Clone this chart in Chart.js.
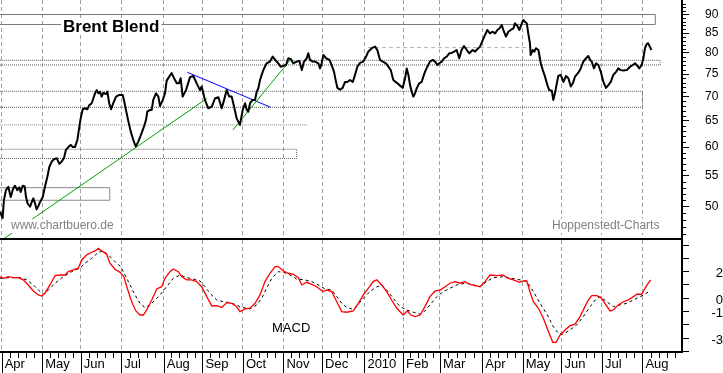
<!DOCTYPE html>
<html lang="de">
<head>
<meta charset="UTF-8">
<title>Brent Blend</title>
<script src="https://cdn.jsdelivr.net/npm/chart.js@4"></script>
<style>
    body {
        margin: 0;
        background: #fff;
        width: 723px;
        height: 373px;
        overflow: hidden;
        position: relative;
    }
    #pricebox { position: absolute; left: 0; top: 0; width: 723px; height: 240px; }
    #macdbox { position: absolute; left: 0; top: 238px; width: 723px; height: 135px; }
</style>
</head>
<body>
<div id="pricebox"><canvas id="priceChart" width="723" height="240"></canvas></div>
<div id="macdbox"><canvas id="macdChart" width="723" height="135"></canvas></div>
<script>
// x = trading day counted from 1 Apr 2009
const monthStarts = [0, 22, 43, 65, 88, 109, 131, 153, 174, 197, 218, 238, 261, 283, 304, 326, 348, 370];
const monthLabels = ['Apr', 'May', 'Jun', 'Jul', 'Aug', 'Sep', 'Oct', 'Nov', 'Dec', '2010', 'Feb', 'Mar', 'Apr', 'May', 'Jun', 'Jul', 'Aug'];

const priceTicks = [50, 55, 60, 65, 70, 75, 80, 85, 90];
const macdTicks = [-4, -3, -2, -1, 0, 1, 2, 3, 4];
const macdLabelled = [2, 0, -1, -3];

// Brent close (USD)
const priceDays = [
    -1, 0.5, 1.2, 2.3, 3.6, 4.9, 6.3, 7.2, 8.5, 9.6,
    10.3, 11.4, 12.5, 13.2, 14.1, 15.4, 16.3, 17.2, 18.1, 19.0,
    19.9, 20.8, 22.3, 23.5, 24.8, 25.9, 27.2, 28.4, 29.9, 31.3,
    32.6, 33.8, 34.9, 36.2, 37.5, 38.6, 39.8, 41.1, 42.2, 42.9,
    44.0, 45.2, 46.5, 47.6, 48.9, 49.8, 50.7, 51.6, 52.5, 53.4,
    54.3, 55.2, 56.7, 57.4, 58.4, 59.4, 60.6, 62.1, 63.9, 65.7,
    66.4, 67.5, 68.8, 70.1, 71.5, 72.8, 74.2, 76.0, 77.3, 78.4,
    79.1, 80.6, 81.5, 82.3, 83.8, 85.1, 86.0, 87.5, 88.7, 89.6,
    91.0, 92.3, 93.6, 95.1, 96.3, 97.2, 98.3, 100.1, 102.3, 104.1,
    105.9, 107.7, 108.6, 110.4, 112.2, 114.1, 115.9, 117.7, 119.5, 120.8,
    122.2, 123.6, 124.9, 126.2, 127.6, 129.4, 130.9, 132.2, 133.1, 133.9,
    134.9, 136.3, 137.6, 138.5, 139.4, 140.3, 141.2, 142.1, 143.0, 143.9,
    145.7, 147.2, 148.5, 150.2, 151.5, 153.0, 154.4, 155.7, 157.0, 158.4,
    160.2, 161.7, 163.0, 164.2, 165.7, 166.5, 167.5, 168.9, 170.2, 172.0,
    172.9, 173.8, 174.7, 176.2, 178.0, 179.2, 180.5, 181.6, 182.3, 183.8,
    185.2, 186.5, 187.7, 189.2, 190.7, 191.9, 193.2, 194.6, 196.4, 197.9,
    199.1, 201.0, 202.8, 204.0, 205.5, 207.0, 208.7, 210.0, 211.3, 212.7,
    214.6, 216.0, 217.8, 219.1, 220.0, 220.9, 221.8, 222.7, 223.6, 224.5,
    225.4, 226.8, 228.1, 229.0, 229.9, 231.2, 232.6, 234.1, 235.4, 236.6,
    237.7, 239.0, 240.3, 241.7, 243.1, 244.4, 245.7, 247.1, 248.5, 249.8,
    251.1, 252.6, 254.0, 255.8, 257.1, 258.3, 259.8, 261.3, 262.5, 263.8,
    265.2, 266.7, 268.0, 269.2, 270.3, 271.6, 272.8, 273.9, 275.2, 276.5,
    277.9, 278.8, 280.1, 281.2, 282.5, 283.3, 284.2, 285.2, 286.0, 286.9,
    287.3, 288.4, 289.3, 290.2, 291.5, 292.0, 292.8, 293.9, 295.1, 296.4,
    297.4, 298.8, 299.6, 300.5, 301.5, 302.3, 303.6, 305.1, 306.5, 307.8,
    309.1, 310.2, 311.4, 313.2, 314.5, 315.9, 317.4, 318.6, 319.6, 320.5,
    321.7, 322.8, 324.1, 325.4, 326.8, 328.2, 329.5, 330.8, 332.2, 333.7,
    334.9, 336.2, 337.6, 339.5, 341.3, 342.8, 344.0, 345.3, 346.3, 347.6,
    348.5, 349.4, 350.3, 351.1, 352.0, 352.9
];
const priceValues = [
    49.25, 48.3, 51.0, 52.6, 53.15, 51.5, 52.9, 53.3, 52.6, 53.05,
    52.3, 53.3, 53.2, 51.5, 50.5, 50.0, 50.7, 51.3, 50.5, 49.6,
    50.1, 50.7, 51.5, 53.15, 54.8, 56.5, 57.4, 57.8, 58.0, 57.0,
    57.4, 58.0, 59.5, 60.0, 60.4, 60.0, 60.0, 61.3, 63.9, 65.5,
    67.35, 67.55, 67.35, 68.2, 68.6, 69.65, 70.7, 71.4, 70.7, 71.05,
    70.0, 70.8, 70.55, 71.05, 68.6, 67.35, 68.6, 70.0, 70.35, 70.35,
    69.3, 67.2, 64.9, 62.9, 61.3, 60.1, 61.0, 62.6, 63.9, 65.2,
    66.85, 67.2, 67.2, 69.3, 70.7, 70.0, 68.0, 69.3, 70.7, 73.5,
    74.4, 75.2, 74.05, 72.9, 72.9, 74.05, 70.0, 71.4, 74.3, 74.55,
    72.9, 71.4, 72.2, 69.3, 67.55, 67.9, 69.65, 69.85, 67.55, 69.3,
    71.4, 70.0, 70.0, 67.9, 65.5, 64.2, 67.2, 68.6, 67.2, 66.85,
    68.6, 69.3, 69.3, 71.05, 71.8, 73.65, 74.8, 75.9, 76.7, 77.5,
    77.9, 79.1, 78.3, 77.5, 76.7, 76.9, 77.1, 78.7, 78.5, 77.5,
    77.9, 78.05, 75.9, 77.9, 78.7, 79.9, 78.3, 77.9, 77.9, 77.5,
    76.3, 77.5, 79.5, 78.7, 78.3, 77.1, 75.5, 73.2, 71.9, 71.5,
    71.9, 73.2, 73.2, 73.65, 73.2, 74.8, 76.7, 77.6, 77.9, 79.1,
    80.3, 81.15, 81.55, 80.7, 78.3, 77.9, 77.5, 76.7, 75.9, 73.65,
    73.0, 72.5, 71.9, 74.05, 76.3, 74.8, 72.5, 71.05, 70.0, 70.7,
    71.8, 72.9, 73.2, 74.4, 75.5, 76.7, 77.9, 78.3, 77.9, 77.1,
    77.5, 77.9, 78.7, 79.1, 79.9, 80.0, 80.3, 80.7, 78.7, 80.7,
    81.7, 80.7, 79.9, 80.7, 80.3, 80.9, 81.55, 83.2, 84.5, 85.8,
    84.9, 85.35, 84.9, 85.8, 86.2, 87.1, 85.35, 84.1, 85.35, 85.8,
    86.2, 87.55, 86.85, 85.8, 87.55, 88.45, 88.0, 87.55, 84.9, 82.4,
    79.5, 80.7, 80.3, 81.15, 80.7, 79.5, 77.5, 75.9, 74.4, 72.5,
    71.4, 71.25, 69.3, 70.7, 72.9, 74.55, 74.8, 73.2, 74.55, 74.05,
    72.2, 72.9, 74.4, 75.3, 76.3, 77.9, 78.7, 79.25, 78.3, 77.9,
    76.3, 77.5, 77.1, 75.5, 73.2, 71.9, 72.5, 73.2, 74.8, 75.5,
    76.3, 75.9, 75.8, 75.9, 76.7, 77.1, 77.5, 76.9, 76.3, 77.1,
    78.7, 81.15, 82.2, 82.4, 81.55, 80.7
];

// MACD line and its signal line
const macdDays = [
    -0.9, 0.9, 3.6, 6.3, 9.0, 11.7, 14.4, 17.2, 19.9, 21.7,
    23.5, 26.2, 29.0, 31.7, 34.4, 36.2, 38.9, 41.6, 43.5, 46.2,
    48.9, 50.7, 52.5, 54.3, 57.0, 58.8, 61.5, 64.3, 66.4, 68.2,
    70.6, 72.9, 75.1, 76.9, 78.8, 81.5, 84.2, 86.9, 88.7, 91.4,
    93.2, 95.9, 97.8, 100.5, 103.2, 105.9, 108.6, 111.4, 114.1, 116.8,
    119.5, 122.2, 124.9, 127.6, 129.4, 132.2, 134.9, 137.6, 140.3, 143.0,
    145.7, 148.5, 150.2, 153.0, 155.7, 158.4, 161.1, 163.0, 165.7, 168.4,
    171.1, 174.4, 176.5, 179.3, 182.0, 184.7, 187.4, 191.0, 193.7, 196.4,
    199.1, 201.8, 203.7, 206.4, 209.1, 211.8, 214.6, 218.1, 220.3, 222.2,
    224.5, 227.2, 229.9, 232.6, 235.4, 238.1, 240.8, 243.5, 246.2, 248.9,
    251.6, 254.4, 257.1, 259.8, 262.5, 265.2, 268.9, 272.1, 275.2, 277.9,
    281.2, 283.3, 285.2, 286.9, 288.8, 291.5, 294.2, 297.0, 299.3, 301.1,
    303.3, 306.0, 308.7, 311.4, 314.1, 316.8, 318.6, 320.5, 323.2, 325.4,
    328.2, 330.4, 332.2, 334.9, 337.6, 340.4, 343.1, 344.9, 347.6, 349.4,
    351.2, 352.5
];
const macdValues = [
    1.62, 1.50, 1.62, 1.55, 1.55, 1.38, 1.0, 0.55, 0.25, 0.17,
    0.38, 1.0, 1.70, 1.75, 1.75, 2.0, 2.13, 2.26, 2.88, 3.26,
    3.46, 3.56, 3.76, 3.56, 3.31, 2.63, 2.18, 1.95, 1.62, 0.75,
    -0.26, -0.95, -1.26, -1.26, -0.88, -0.13, 0.70, 0.87, 1.50, 2.0,
    2.20, 2.0, 1.62, 1.38, 1.38, 1.25, 0.87, 0.12, -0.58, -0.55,
    -0.70, -0.33, -0.38, -0.63, -1.0, -0.80, -0.75, -0.38, 0.25, 1.25,
    1.88, 2.38, 2.38, 2.05, 1.88, 1.80, 1.55, 1.0, 1.20, 1.05,
    0.87, 0.50, 0.62, 0.50, -0.26, -1.0, -1.05, -0.95, -0.38, 0.25,
    0.75, 1.25, 1.38, 1.0, 0.50, -0.13, -0.75, -1.26, -0.95, -1.26,
    -1.38, -1.26, -0.63, 0.12, 0.55, 0.62, 0.87, 1.13, 1.25, 1.13,
    1.25, 1.05, 0.95, 0.87, 1.25, 1.75, 1.70, 1.75, 1.50, 1.38,
    1.20, 1.30, 1.30, 0.50, -0.26, -0.75, -1.50, -2.51, -3.31, -3.31,
    -2.76, -2.38, -2.06, -1.95, -1.38, -0.63, -0.13, 0.20, 0.20, 0.05,
    -0.50, -0.95, -0.88, -0.50, -0.26, -0.13, 0.12, 0.30, 0.30, 0.75,
    1.13, 1.38
];
const signalDays = [
    -0.9, 4.5, 9.9, 13.6, 17.2, 19.9, 22.6, 25.3, 29.0, 33.5,
    38.0, 42.5, 45.2, 48.9, 52.5, 55.2, 57.9, 61.5, 64.6, 67.0,
    69.7, 72.4, 75.1, 77.8, 80.6, 83.3, 86.0, 89.6, 93.2, 96.9,
    100.5, 104.1, 107.7, 110.4, 113.1, 116.8, 120.4, 124.0, 127.6, 129.4,
    134.9, 138.5, 141.2, 143.9, 146.7, 150.2, 153.0, 156.6, 160.2, 164.7,
    168.4, 172.0, 175.6, 179.3, 182.0, 184.7, 187.4, 190.1, 192.8, 195.5,
    199.1, 202.8, 206.4, 209.1, 212.7, 216.4, 220.0, 223.6, 227.2, 229.9,
    232.6, 236.3, 239.9, 243.5, 248.0, 252.6, 256.2, 259.8, 263.4, 267.0,
    272.4, 277.0, 281.5, 285.2, 288.8, 292.4, 296.4, 299.6, 302.3, 305.1,
    308.7, 312.3, 315.9, 319.6, 322.3, 325.0, 328.6, 332.2, 335.9, 339.5,
    343.1, 346.7, 349.4, 352.0
];
const signalValues = [
    1.50, 1.55, 1.55, 1.38, 1.0, 0.62, 0.30, 0.62, 1.13, 1.62,
    2.0, 2.26, 2.63, 3.0, 3.46, 3.56, 3.26, 2.75, 2.38, 1.75,
    1.0, 0.25, -0.38, -0.70, -0.50, -0.13, 0.25, 0.87, 1.50, 1.75,
    1.55, 1.45, 1.30, 0.87, 0.38, -0.13, -0.26, -0.33, -0.50, -0.65,
    -0.80, -0.50, 0.0, 0.75, 1.50, 2.0, 1.95, 1.75, 1.45, 1.38,
    1.25, 1.0, 0.70, 0.62, 0.12, -0.38, -0.70, -0.80, -0.63, -0.13,
    0.38, 0.80, 1.0, 0.62, 0.0, -0.63, -0.88, -1.05, -1.20, -0.95,
    -0.50, 0.12, 0.50, 0.75, 1.05, 1.13, 1.0, 0.87, 1.25, 1.55,
    1.62, 1.50, 1.38, 1.25, 0.50, -0.38, -1.26, -2.14, -2.63, -2.71,
    -2.38, -2.0, -1.38, -0.63, -0.13, 0.12, -0.26, -0.63, -0.50, -0.38,
    -0.13, 0.12, 0.30, 0.55
];

// price zones (boxes start at the left edge)
const zoneEnd = [355.0, 357.6, 348.0, 160.2, 58.7];
const zoneLow = [87.25, 77.1, 67.75, 57.95, 51.0];
const zoneHigh = [89.95, 78.2, 71.15, 59.6, 53.0];

// single horizontal levels
const levelValue = [64.2, 81.3];
const levelFrom = [-1, 199];
const levelTo = [166.2, 287];

// trend lines
const trendFromDay = [0.9, 125.5, 100.8];
const trendFromValue = [45.3, 63.2, 75.4];
const trendToDay = [111.4, 157.5, 146.1];
const trendToValue = [69.6, 78.7, 67.75];

const X_MIN = -0.92, X_MAX = 369.5;
const PRICE_MIN = 45.17, PRICE_MAX = 94.03;
const MACD_MIN = -4.04, MACD_MAX = 4.38;

const FONT = '"Liberation Sans", Arial, sans-serif';
const zoneStyles = [
    {color: '#7a7a7a', dash: []},
    {color: '#5a5a5a', dash: [1, 1]},
    {color: '#5a5a5a', dash: [1, 1]},
    {color: '#5a5a5a', dash: [1, 1]},
    {color: '#8a8a8a', dash: []}
];
const levelStyles = [
    {color: '#8a8a8a', dash: [1, 1]},
    {color: '#b0b0b0', dash: [4, 3]}
];
const trendColors = ['#00a000', '#00a000', '#0000ff'];

function pts(xs, ys) {
    return xs.map((x, i) => ({x: x, y: ys[i]}));
}

const priceSets = [{
    data: pts(priceDays, priceValues),
    borderColor: '#000',
    borderWidth: 2,
    borderJoinStyle: 'round',
    pointRadius: 0
}];
trendFromDay.forEach((d, i) => {
    priceSets.push({
        data: [{x: d, y: trendFromValue[i]}, {x: trendToDay[i], y: trendToValue[i]}],
        borderColor: trendColors[i], borderWidth: 1, pointRadius: 0
    });
});
levelValue.forEach((v, i) => {
    priceSets.push({
        data: [{x: levelFrom[i], y: v}, {x: levelTo[i], y: v}],
        borderColor: levelStyles[i].color, borderDash: levelStyles[i].dash, borderWidth: 1, pointRadius: 0
    });
});
zoneEnd.forEach((end, i) => {
    priceSets.push({
        data: [{x: -2, y: zoneLow[i]}, {x: end, y: zoneLow[i]}, {x: end, y: zoneHigh[i]}, {x: -2, y: zoneHigh[i]}],
        borderColor: zoneStyles[i].color, borderDash: zoneStyles[i].dash, borderWidth: 1, pointRadius: 0
    });
});

function labelBox(ctx, text, x, y) {
    const w = ctx.measureText(text).width;
    ctx.fillStyle = '#fff';
    ctx.fillRect(x - 2, y - 7, w + 4, 14);
}

const priceDecor = {
    id: 'priceDecor',
    afterDatasetsDraw(chart) {
        const ctx = chart.ctx;
        ctx.save();
        ctx.textBaseline = 'middle';
        ctx.font = 'bold 17px ' + FONT;
        labelBox(ctx, 'Brent Blend', 63, 27);
        ctx.fillStyle = '#000';
        ctx.fillText('Brent Blend', 63, 27);

        ctx.font = '12px ' + FONT;
        labelBox(ctx, 'www.chartbuero.de', 11, 226);
        ctx.fillStyle = '#808080';
        ctx.fillText('www.chartbuero.de', 11, 226);
        labelBox(ctx, 'Hoppenstedt-Charts', 552, 226);
        ctx.fillStyle = '#808080';
        ctx.fillText('Hoppenstedt-Charts', 552, 226);
        ctx.restore();
    },
    afterDraw(chart) {
        // small ticks for every dollar on the price axis
        const ctx = chart.ctx, y = chart.scales.y;
        ctx.save();
        ctx.strokeStyle = '#000';
        ctx.lineWidth = 1;
        ctx.beginPath();
        for (let v = 46; v <= 93; v++) {
            if (v % 5 === 0) continue;
            const p = Math.round(y.getPixelForValue(v)) + 0.5;
            ctx.moveTo(y.left, p);
            ctx.lineTo(y.left + 4, p);
        }
        ctx.stroke();
        ctx.restore();
    }
};

const macdDecor = {
    id: 'macdDecor',
    afterDraw(chart) {
        const ctx = chart.ctx, a = chart.chartArea, x = chart.scales.x;
        ctx.save();
        ctx.fillStyle = '#000';
        ctx.fillRect(0, a.top - 2, a.right, 2);

        ctx.strokeStyle = '#000';
        ctx.lineWidth = 1;
        ctx.beginPath();
        for (let i = 0; i < monthStarts.length - 1; i++) {
            const p = Math.round(x.getPixelForValue(monthStarts[i])) + 0.5;
            ctx.moveTo(p, a.bottom);
            ctx.lineTo(p, chart.height);
            for (let k = 1; k < 5; k++) {
                const v = monthStarts[i] + (monthStarts[i + 1] - monthStarts[i]) * k / 5;
                const q = Math.round(x.getPixelForValue(v)) + 0.5;
                if (q > a.right) continue;
                ctx.moveTo(q, a.bottom);
                ctx.lineTo(q, a.bottom + 6);
            }
        }
        ctx.stroke();

        ctx.font = '13px ' + FONT;
        ctx.fillStyle = '#000';
        ctx.textBaseline = 'middle';
        ctx.fillText('MACD', 272, 90);
        ctx.restore();
    }
};

new Chart(document.getElementById('priceChart'), {
    type: 'line',
    data: {datasets: priceSets},
    options: {
        responsive: false,
        animation: false,
        events: [],
        layout: {padding: 0},
        plugins: {legend: {display: false}, tooltip: {enabled: false}},
        scales: {
            x: {
                type: 'linear', min: X_MIN, max: X_MAX,
                afterBuildTicks: s => { s.ticks = monthStarts.slice(0, monthLabels.length).map(v => ({value: v})); },
                ticks: {display: false},
                grid: {color: '#a0a0a0', drawTicks: false},
                border: {display: false, dash: [4, 3]},
                afterFit: s => { s.height = 0; s.paddingLeft = 0; s.paddingRight = 0; }
            },
            y: {
                type: 'logarithmic', position: 'right', min: PRICE_MIN, max: PRICE_MAX,
                afterBuildTicks: s => { s.ticks = priceTicks.map(v => ({value: v})); },
                ticks: {
                    callback: v => String(v),
                    autoSkip: false,
                    color: '#000',
                    padding: 16,
                    font: {family: FONT, size: 12}
                },
                grid: {drawOnChartArea: false, tickLength: 7, color: '#000'},
                border: {color: '#000', width: 2},
                afterFit: s => { s.width = 41; s.paddingTop = 0; s.paddingBottom = 0; }
            }
        }
    },
    plugins: [priceDecor]
});

new Chart(document.getElementById('macdChart'), {
    type: 'line',
    data: {
        datasets: [{
            data: pts(macdDays, macdValues),
            borderColor: '#ff0000',
            borderWidth: 1.3,
            pointRadius: 0
        }, {
            data: pts(signalDays, signalValues),
            borderColor: '#000',
            borderWidth: 1,
            borderDash: [3, 3],
            pointRadius: 0
        }]
    },
    options: {
        responsive: false,
        animation: false,
        events: [],
        layout: {padding: {top: 2}},
        plugins: {legend: {display: false}, tooltip: {enabled: false}},
        scales: {
            x: {
                type: 'linear', min: X_MIN, max: X_MAX,
                afterBuildTicks: s => { s.ticks = monthStarts.slice(0, monthLabels.length).map(v => ({value: v})); },
                ticks: {
                    callback: (v, i) => monthLabels[i],
                    align: 'start',
                    labelOffset: 3,
                    padding: 5,
                    maxRotation: 0,
                    autoSkip: false,
                    color: '#000',
                    font: {family: FONT, size: 13}
                },
                grid: {color: '#a0a0a0', drawTicks: false},
                border: {color: '#000', width: 2, dash: [4, 3]},
                afterFit: s => { s.height = 21; s.paddingLeft = 0; s.paddingRight = 0; }
            },
            y: {
                type: 'linear', position: 'right', min: MACD_MIN, max: MACD_MAX,
                afterBuildTicks: s => { s.ticks = macdTicks.map(v => ({value: v})); },
                ticks: {
                    callback: v => macdLabelled.includes(v) ? String(v) : '',
                    autoSkip: false,
                    color: '#000',
                    padding: 19,
                    crossAlign: 'far',
                    labelOffset: 2,
                    font: {family: FONT, size: 13}
                },
                grid: {drawOnChartArea: false, tickLength: 7, color: '#000'},
                border: {color: '#000', width: 2},
                afterFit: s => { s.width = 41; s.paddingTop = 0; s.paddingBottom = 0; }
            }
        }
    },
    plugins: [macdDecor]
});
</script>
</body>
</html>
